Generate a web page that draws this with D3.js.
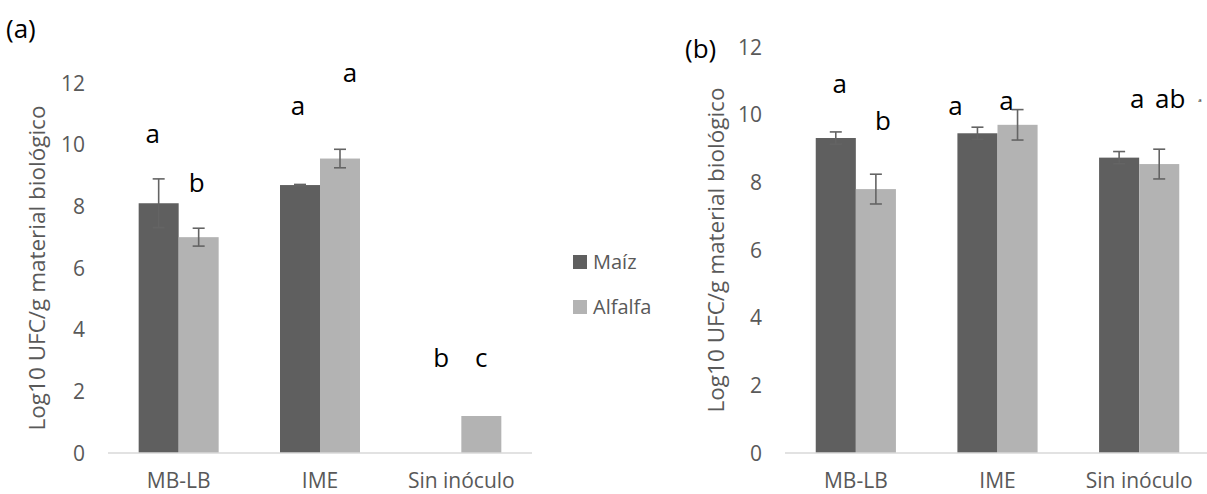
<!DOCTYPE html>
<html>
<head>
<meta charset="utf-8">
<script src="https://cdn.jsdelivr.net/npm/d3@7"></script>
<style>
  body { margin: 0; background: #fff; }
  svg { display: block; font-family: "Open Sans", sans-serif; }
</style>
</head>
<body>
<div id="chart"></div>
<script>
var categories = ["MB-LB", "IME", "Sin inóculo"]
var series = ["Maíz", "Alfalfa"]
var yTicks = [0, 2, 4, 6, 8, 10, 12]

// panel (a)
var maizA = [8.1, 8.69, 0]
var maizErrA = [0.79, 0.02, 0]
var alfalfaA = [7.0, 9.55, 1.2]
var alfalfaErrA = [0.29, 0.3, 0]
var lettersMaizA = [{t: "a", v: 10.05, dx: -6}, {t: "a", v: 10.96, dx: -2}, {t: "b", v: 2.79, dx: 0}]
var lettersAlfA = [{t: "b", v: 8.46, dx: -2}, {t: "a", v: 12.03, dx: 10}, {t: "c", v: 2.79, dx: 0}]

// panel (b)
var maizB = [9.31, 9.45, 8.73]
var maizErrB = [0.18, 0.18, 0.18]
var alfalfaB = [7.8, 9.7, 8.54]
var alfalfaErrB = [0.44, 0.45, 0.44]
var lettersMaizB = [{t: "a", v: 10.63, dx: 4}, {t: "a", v: 9.99, dx: -22}, {t: "a", v: 10.19, dx: 18}]
var lettersAlfB = [{t: "b", v: 9.54, dx: 7}, {t: "a", v: 10.13, dx: -11}, {t: "ab", v: 10.19, dx: 11}]

var colors = {"Maíz": "#5f5f5f", "Alfalfa": "#b3b3b3"}
var textGray = "#595959"

var svg = d3.select("#chart").append("svg")
  .attr("width", 1207)
  .attr("height", 494)

function buildPanel(opts){
  var g = svg.append("g")

  var x = d3.scaleBand()
    .domain(categories)
    .range([opts.x0, opts.x1])
    .paddingInner(0.434)
    .paddingOuter(0.217)
  var x1 = d3.scaleBand()
    .domain(series)
    .range([0, x.bandwidth()])

  var y = d3.scaleLinear()
    .domain([0, 12])
    .range([opts.y0, opts.y1])

  // tick labels only, no tick marks
  g.selectAll(".ytick")
    .data(yTicks)
    .enter()
    .append("text")
    .attr("x", opts.x0 - 23)
    .attr("y", d => y(d))
    .attr("dy", "0.36em")
    .attr("text-anchor", "end")
    .attr("font-size", 21)
    .attr("fill", textGray)
    .text(d => d)

  // y title
  g.append("text")
    .attr("transform", "translate(" + opts.titleX + "," + opts.titleY + ") rotate(-90)")
    .attr("text-anchor", "middle")
    .attr("font-size", 22.5)
    .attr("fill", textGray)
    .text("Log10 UFC/g material biológico")

  var rows = categories.map(function(c, i){
    return [
      {cat: c, s: "Maíz", v: opts.maiz[i], e: opts.maizErr[i], l: opts.lettersMaiz[i]},
      {cat: c, s: "Alfalfa", v: opts.alf[i], e: opts.alfErr[i], l: opts.lettersAlf[i]}
    ]
  }).flat()

  // bars
  g.selectAll(".bar")
    .data(rows.filter(d => d.v > 0))
    .enter()
    .append("rect")
    .attr("x", d => x(d.cat) + x1(d.s))
    .attr("y", d => y(d.v))
    .attr("width", x1.bandwidth())
    .attr("height", d => y(0) - y(d.v))
    .attr("fill", d => colors[d.s])

  // x axis line
  g.append("line")
    .attr("x1", opts.x0).attr("x2", opts.x1)
    .attr("y1", y(0)).attr("y2", y(0))
    .attr("stroke", "#d9d9d9")
    .attr("stroke-width", 1.5)

  // error bars
  var eb = g.selectAll(".err")
    .data(rows.filter(d => d.e > 0))
    .enter()
    .append("g")
    .attr("stroke", "#646464")
    .attr("stroke-width", 1.6)
  eb.append("line")
    .attr("x1", d => x(d.cat) + x1(d.s) + x1.bandwidth() / 2)
    .attr("x2", d => x(d.cat) + x1(d.s) + x1.bandwidth() / 2)
    .attr("y1", d => y(d.v + d.e))
    .attr("y2", d => y(d.v - d.e))
  eb.append("line")
    .attr("x1", d => x(d.cat) + x1(d.s) + x1.bandwidth() / 2 - 6)
    .attr("x2", d => x(d.cat) + x1(d.s) + x1.bandwidth() / 2 + 6)
    .attr("y1", d => y(d.v + d.e))
    .attr("y2", d => y(d.v + d.e))
  eb.append("line")
    .attr("x1", d => x(d.cat) + x1(d.s) + x1.bandwidth() / 2 - 6)
    .attr("x2", d => x(d.cat) + x1(d.s) + x1.bandwidth() / 2 + 6)
    .attr("y1", d => y(d.v - d.e))
    .attr("y2", d => y(d.v - d.e))

  // significance letters
  g.selectAll(".letter")
    .data(rows)
    .enter()
    .append("text")
    .attr("x", d => x(d.cat) + x1(d.s) + x1.bandwidth() / 2 + d.l.dx)
    .attr("y", d => y(d.l.v))
    .attr("text-anchor", "middle")
    .attr("font-size", 26)
    .attr("fill", "#000")
    .text(d => d.l.t)

  // category labels
  g.selectAll(".cat")
    .data(categories)
    .enter()
    .append("text")
    .attr("x", d => x(d) + x.bandwidth() / 2)
    .attr("y", 488)
    .attr("text-anchor", "middle")
    .attr("font-size", 21)
    .attr("fill", textGray)
    .text(d => d)

  // panel tag
  g.append("text")
    .attr("x", opts.tagX)
    .attr("y", opts.tagY)
    .attr("font-size", 26)
    .attr("fill", "#000")
    .text(opts.tag)

  return {x: x, x1: x1, y: y, g: g}
}

buildPanel({
  x0: 108, x1: 532, y0: 453, y1: 83,
  maiz: maizA, maizErr: maizErrA, alf: alfalfaA, alfErr: alfalfaErrA,
  lettersMaiz: lettersMaizA, lettersAlf: lettersAlfA,
  titleX: 45, titleY: 268, tag: "(a)", tagX: 6, tagY: 38
})

var pb = buildPanel({
  x0: 785, x1: 1210, y0: 453, y1: 47,
  maiz: maizB, maizErr: maizErrB, alf: alfalfaB, alfErr: alfalfaErrB,
  lettersMaiz: lettersMaizB, lettersAlf: lettersAlfB,
  titleX: 724, titleY: 250, tag: "(b)", tagX: 685, tagY: 58
})

// tiny stray "a" next to ab
pb.g.append("text")
  .attr("x", 1200)
  .attr("y", 102)
  .attr("text-anchor", "middle")
  .attr("font-size", 6)
  .attr("fill", "#000")
  .text("a")

// legend
var legend = svg.append("g")
  .selectAll("g")
  .data(series)
  .enter()
  .append("g")
  .attr("transform", (d, i) => "translate(573," + (255 + i * 45) + ")")
legend.append("rect")
  .attr("width", 14)
  .attr("height", 14)
  .attr("fill", d => colors[d])
legend.append("text")
  .attr("x", 20)
  .attr("y", 14)
  .attr("font-size", 20)
  .attr("fill", textGray)
  .text(d => d)
</script>
</body>
</html>
